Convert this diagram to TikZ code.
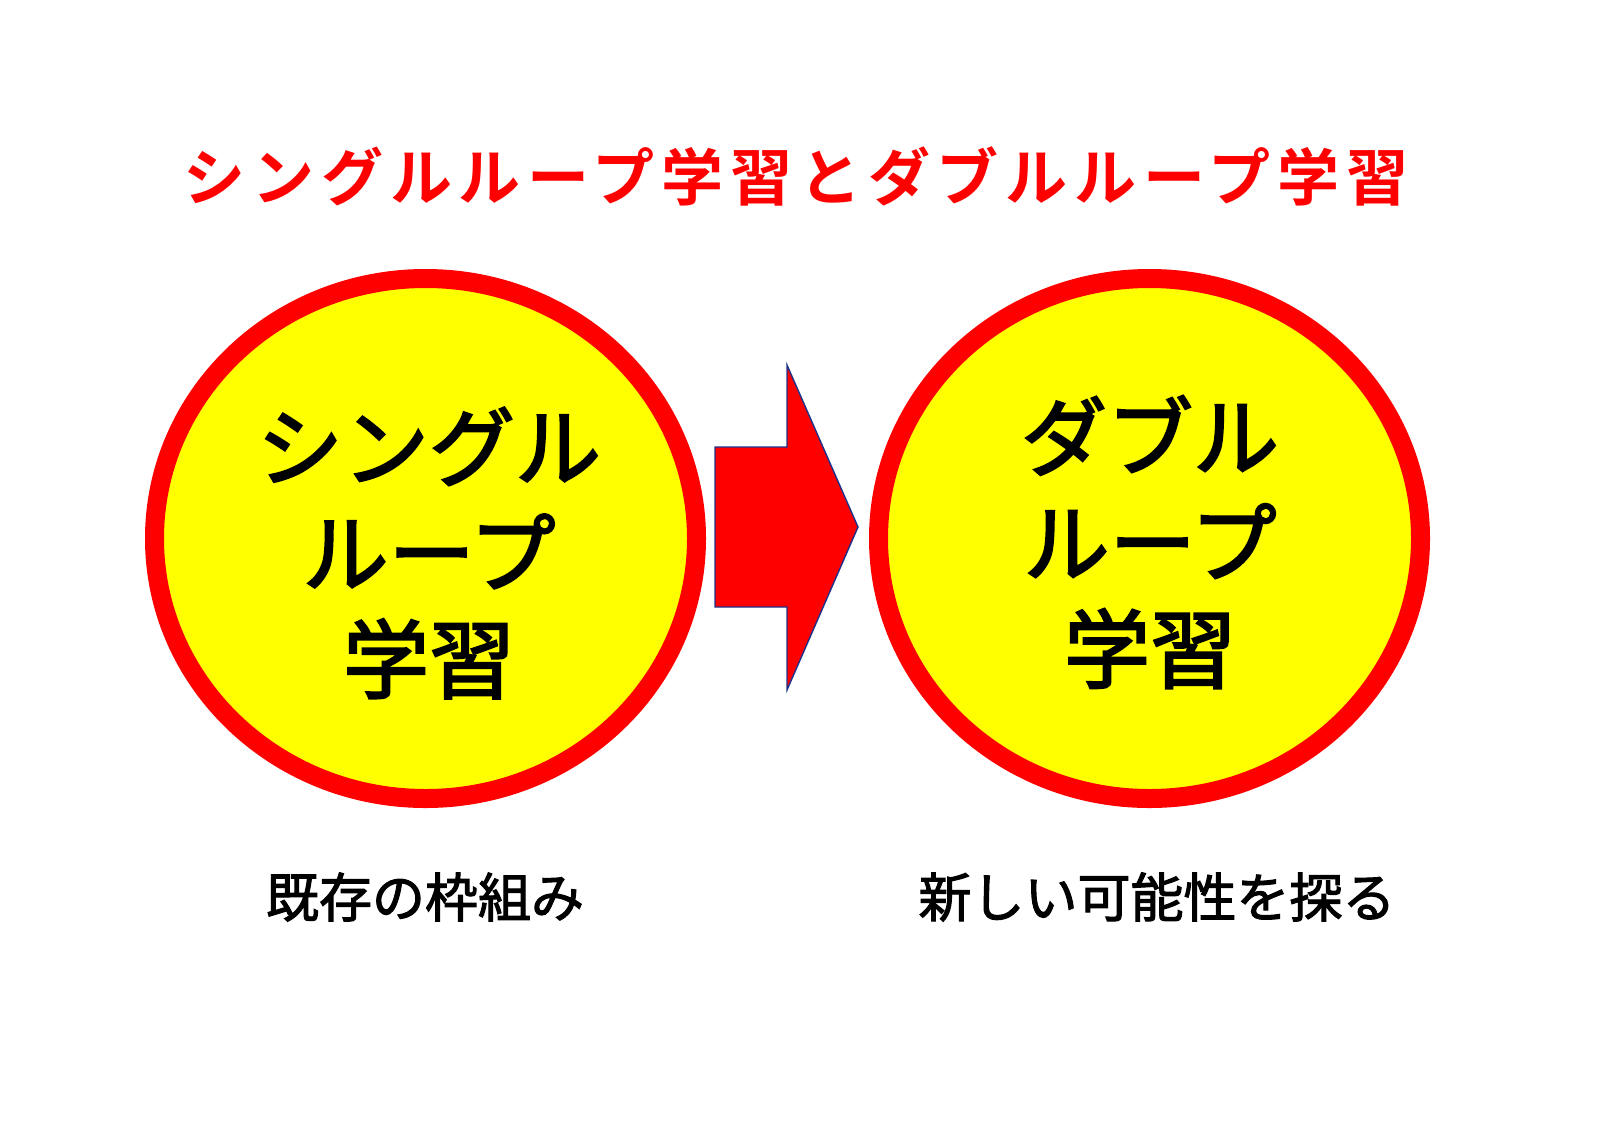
\documentclass[tikz,border=0pt]{standalone}
\usepackage{fontspec}
\newfontfamily\jp[BoldFont={Noto Sans CJK JP Bold}]{Noto Sans CJK JP}
\definecolor{ringyellow}{RGB}{255,255,0}
\definecolor{ringred}{RGB}{255,0,0}
\definecolor{edgeblue}{RGB}{30,50,140}
\begin{document}
\begin{tikzpicture}[x=0.5pt, y=-0.5pt,
  every node/.style={font=\jp, inner sep=0pt},
  loopring/.style={fill=ringyellow, draw=ringred, line width=9.5pt},
  bigtext/.style={align=center,
    font=\jp\addfontfeature{FakeBold=2.5}\fontsize{43}{53}\selectfont},
  caption/.style={font=\jp\addfontfeature{FakeBold=2}\fontsize{26.5}{31}\selectfont}]
  \useasboundingbox (0,0) rectangle (1600,1130);
  \def\RX{271}
  \def\RY{260}

  % title
  \node[text=ringred, font=\jp\bfseries\addfontfeature{LetterSpace=11}\fontsize{31}{36}\selectfont]
    (title) at (796,176) {シングルループ学習とダブルループ学習};

  % the two loops
  \draw[loopring] (425.5,538.5) ellipse [x radius=\RX, y radius=\RY];
  \draw[loopring] (1149.5,538.5) ellipse [x radius=\RX, y radius=\RY];
  \node[bigtext] (single) at (429,553) {シングル\\ループ\\学習};
  \node[bigtext] (double) at (1150,542) {ダブル\\ループ\\学習};

  % block arrow
  \filldraw[fill=ringred, draw=edgeblue, line width=0.7pt]
    (715,447) -- (787,447) -- (787,365) -- (858,527) -- (787,690)
    -- (787,607) -- (715,607) -- cycle;

  % captions
  \node[caption] (old) at (425,897) {既存の枠組み};
  \node[caption] (new) at (1157,897) {新しい可能性を探る};
\end{tikzpicture}
\end{document}
